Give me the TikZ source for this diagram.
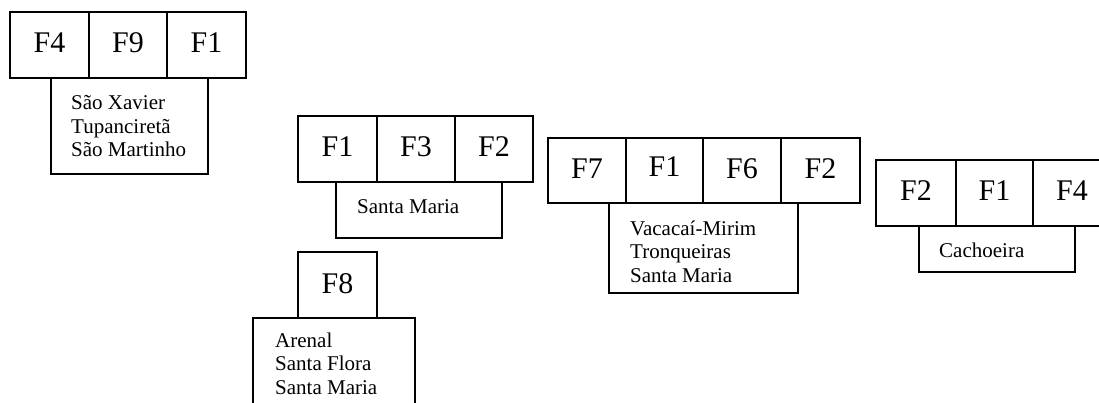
\documentclass[tikz,border=0pt]{standalone}
\usepackage{fontspec}
\setmainfont{Liberation Serif}
\begin{document}
\begin{tikzpicture}[x=1pt,y=-1pt,
  cell/.style={draw, line width=1.4pt, inner sep=0pt,
    font=\fontsize{30}{36}\selectfont, text height=21pt, text depth=5pt},
  areabox/.style={draw, line width=1.4pt, inner sep=0pt},
  places/.style={inner sep=0pt, anchor=base west, align=left,
    font=\fontsize{21}{23.5}\selectfont}]
\useasboundingbox (0,0) rectangle (1099,403);
\clip (0,0) rectangle (1099,403);

% group: F4 F9 F1 (text anchored at the baseline of its last line)
\node[cell, minimum width=79pt, minimum height=66pt] (a1) at (49.5,45) {F4};
\node[cell, minimum width=78pt, minimum height=66pt] (a2) at (128,45) {F9};
\node[cell, minimum width=79pt, minimum height=66pt] (a3) at (206.5,45) {F1};
\node[areabox, minimum width=157pt, minimum height=96pt] (abox) at (129.5,126) {};
\node[places] (atext) at (71,157) {São Xavier\\Tupanciretã\\São Martinho};

% group: F1 F3 F2
\node[cell, minimum width=79pt, minimum height=66pt] (b1) at (337.5,149) {F1};
\node[cell, minimum width=78pt, minimum height=66pt] (b2) at (416,149) {F3};
\node[cell, minimum width=78pt, minimum height=66pt] (b3) at (494,149) {F2};
\node[areabox, minimum width=166pt, minimum height=56pt] (bbox) at (419,210) {};
\node[places] (btext) at (357,214) {Santa Maria};

% group: F7 F1 F6 F2
\node[cell, minimum width=78pt, minimum height=65pt] (c1) at (587,170.5) {F7};
\node[cell, minimum width=77pt, minimum height=65pt] (c2) at (664.5,170.5) {\raisebox{2pt}{F1}};
\node[cell, minimum width=78pt, minimum height=65pt] (c3) at (742,170.5) {F6};
\node[cell, minimum width=79pt, minimum height=65pt] (c4) at (820.5,170.5) {F2};
\node[areabox, minimum width=189pt, minimum height=90pt] (cbox) at (703.5,248) {};
\node[places] (ctext) at (630,282) {Vacacaí-Mirim\\Tronqueiras\\Santa Maria};

% group: F2 F1 F4
\node[cell, minimum width=80pt, minimum height=66pt] (d1) at (916,193) {F2};
\node[cell, minimum width=77pt, minimum height=66pt] (d2) at (994.5,193) {F1};
\node[cell, minimum width=78pt, minimum height=66pt] (d3) at (1072,193) {F4};
\node[areabox, minimum width=156pt, minimum height=46pt] (dbox) at (997,249) {};
\node[places] (dtext) at (939,257) {Cachoeira};

% group: F8
\node[cell, minimum width=79pt, minimum height=66pt] (e1) at (337.5,285) {F8};
\node[areabox, minimum width=162pt, minimum height=112pt] (ebox) at (334,374) {};
\node[places] (etext) at (275,394) {Arenal\\Santa Flora\\Santa Maria};
\end{tikzpicture}
\end{document}
